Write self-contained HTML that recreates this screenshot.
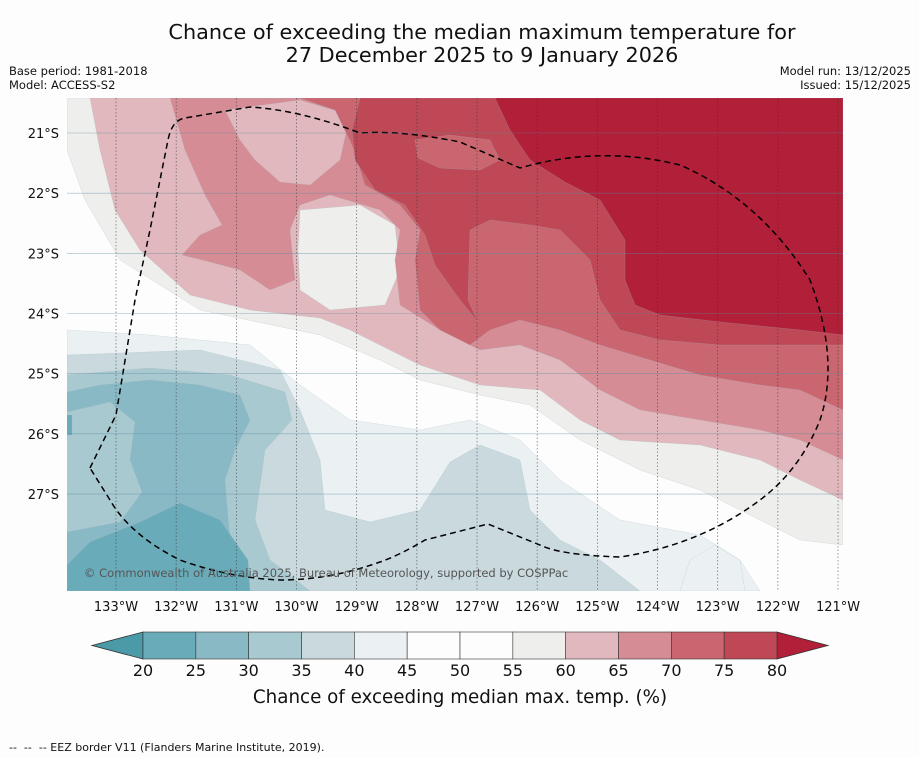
<!DOCTYPE html>
<html><head><meta charset="utf-8"><style>
body{margin:0;background:#fdfdfd;font-family:"DejaVu Sans","Liberation Sans",sans-serif;}
#wrap{position:relative;width:919px;height:758px;overflow:hidden;}
</style></head><body>
<div id="wrap">
<svg id="svg" width="919" height="758" xmlns="http://www.w3.org/2000/svg" font-family="DejaVu Sans, Liberation Sans, sans-serif">
<text x="482" y="39" font-size="20.8" text-anchor="middle" fill="#111">Chance of exceeding the median maximum temperature for</text>
<text x="482" y="62" font-size="20.8" text-anchor="middle" fill="#111">27 December 2025 to 9 January 2026</text>
<text x="9" y="75" font-size="11.5" fill="#111">Base period: 1981-2018</text>
<text x="9" y="89" font-size="11.5" fill="#111">Model: ACCESS-S2</text>
<text x="911" y="75" font-size="11.5" text-anchor="end" fill="#111">Model run: 13/12/2025</text>
<text x="911" y="89" font-size="11.5" text-anchor="end" fill="#111">Issued: 15/12/2025</text>
<defs><clipPath id="mc"><rect x="67" y="98" width="776" height="493"/></clipPath></defs>
<g id="map" clip-path="url(#mc)">
<rect x="67" y="98" width="776" height="493" fill="#fdfdfd"/>
</g>
<g id="grid"></g>
<g id="axes"></g>
<text x="84" y="577" font-size="11.5" fill="#555">© Commonwealth of Australia 2025, Bureau of Meteorology, supported by COSPPac</text>
<g id="cbar"></g>
<text x="460" y="703" font-size="18.3" text-anchor="middle" fill="#111">Chance of exceeding median max. temp. (%)</text>
<text x="9" y="751" font-size="11" fill="#111" xml:space="preserve">--  --  -- EEZ border V11 (Flanders Marine Institute, 2019).</text>
</svg>
</div>
<script>
const levels=[20,25,30,35,40,45,50,55,60,65,70,75,80];
const binColors=["#6aabb9","#8ab9c6","#a9c9d0","#c9d9de","#ebf1f3","#fdfdfd","#fdfdfd","#eeeeec","#e1b8bd","#d58c95","#c9666f","#be4855"];
const underColor="#4a9aa8", overColor="#b11f39";
const lonTicks=[133,132,131,130,129,128,127,126,125,124,123,122,121];
const latTicks=[21,22,23,24,25,26,27];
const NS="http://www.w3.org/2000/svg";
const svg=document.getElementById('svg');
function lonX(l){return 116+(133-l)*60.17;}
function latY(l){return 133+(l-21)*60.17;}
function cbX(v){return 143+(v-20)*(777-143)/60;}
function colorFor(v){if(v<levels[0])return underColor;if(v>=80)return overColor;for(let i=0;i<levels.length-1;i++)if(v<levels[i+1])return binColors[i];}
function mk(t,a,p){const e=document.createElementNS(NS,t);for(const k in a)e.setAttribute(k,a[k]);p.appendChild(e);return e;}
const regions=[
[57,"67,98 843,98 843,545 800,540 760,520 700,490 640,470 580,440 530,405 480,395 420,380 380,360 320,335 200,310 120,260 85,200 67,150"],
[62,"90,98 843,98 843,500 800,480 760,460 700,445 620,440 580,420 540,390 480,385 420,365 350,330 320,318 250,310 190,295 140,250 115,210 100,150"],
[57,"300,210 360,205 395,225 400,270 385,305 330,310 300,290 298,250"],
[67,"170,98 843,98 843,460 800,440 760,430 700,420 640,410 600,390 560,360 520,345 480,350 440,330 400,305 395,260 400,230 380,210 330,195 300,205 290,230 295,280 270,290 240,270 210,262 182,255 200,235 222,225 205,195 185,150 175,115"],
[62,"225,110 300,100 350,115 340,160 310,185 280,182 255,160 240,140"],
[72,"300,98 843,98 843,410 800,390 760,385 700,375 650,360 600,345 560,330 520,320 490,330 470,345 440,330 420,310 415,260 420,230 400,205 365,185 352,145 335,110"],
[77,"360,98 843,98 843,345 800,345 720,345 660,340 620,330 600,300 590,260 560,230 530,225 490,220 470,230 468,300 478,322 460,300 435,265 425,235 405,205 375,190 355,160 352,130"],
[72,"415,140 450,135 490,140 500,160 480,170 440,168 418,158"],
[82,"495,98 843,98 843,335 800,330 720,322 660,315 635,305 625,280 625,240 600,200 565,182 530,160 510,130"],
[42,"67,330 150,335 250,345 300,385 350,420 420,430 470,420 520,440 560,480 620,520 700,535 740,560 760,591 67,591"],
[38,"67,355 200,350 280,370 300,410 320,460 325,510 370,522 420,510 450,462 480,445 520,460 530,510 560,540 600,560 640,591 67,591"],
[42,"680,591 690,560 715,545 740,560 745,591"],
[32,"67,375 150,368 230,375 285,392 292,420 265,450 255,520 270,560 310,591 67,591"],
[27,"67,392 100,385 150,380 200,385 240,395 250,420 235,450 225,480 230,540 250,591 67,591"],
[32,"67,412 110,402 135,422 130,460 142,492 120,522 67,532"],
[22,"67,565 90,542 140,522 180,503 220,520 248,560 250,591 67,591"],
[22,"67,415 72,415 72,435 67,435"]
];
const map=document.getElementById('map');
regions.forEach((r,i)=>{const p=mk('polygon',{points:r[1],fill:colorFor(r[0]),stroke:'#9db7bf','stroke-width':0.4,'stroke-opacity':0.5},map);

});
const eez=mk('path',{d:"M90,468 L116,415 L135,300 L150,230 L168,140 Q172,120 185,118 L250,107 Q300,110 360,133 Q400,130 460,142 L520,168 Q600,145 680,165 Q760,200 810,280 Q840,360 820,420 Q800,470 760,500 Q700,545 620,557 Q560,555 540,545 L488,524 L425,540 Q400,555 380,562 Q330,580 280,580 Q230,578 180,560 Q130,535 110,500 Z",fill:'none',stroke:'#000','stroke-width':1.5,'stroke-dasharray':'6,4'},map);


const grid=document.getElementById('grid'),axes=document.getElementById('axes');
lonTicks.forEach(l=>{const x=lonX(l);
const g=mk('line',{x1:x,y1:98,x2:x,y2:591,stroke:'#333','stroke-width':0.7,'stroke-dasharray':'1.5,2','stroke-opacity':0.7},grid);


const t=mk('text',{x:x,y:611,'font-size':13,'text-anchor':'middle',fill:'#111'},axes);t.textContent=l+'°W';

});
latTicks.forEach(l=>{const y=latY(l);
const g=mk('line',{x1:67,y1:y,x2:843,y2:y,stroke:'#5a8aa0','stroke-width':0.6,'stroke-opacity':0.6},grid);


const t=mk('text',{x:59,y:y+5,'font-size':13,'text-anchor':'end',fill:'#111'},axes);t.textContent=l+'°S';

});
const cb=document.getElementById('cbar');const y0=632,y1=659;
const lt=mk('polygon',{points:`${cbX(20)},${y0} ${cbX(20)},${y1} 92,${(y0+y1)/2}`,fill:underColor,stroke:'#333','stroke-width':0.8},cb);


const rt=mk('polygon',{points:`${cbX(80)},${y0} ${cbX(80)},${y1} 828,${(y0+y1)/2}`,fill:overColor,stroke:'#333','stroke-width':0.8},cb);


for(let i=0;i<levels.length-1;i++){
const r=mk('rect',{x:cbX(levels[i]),y:y0,width:cbX(levels[i+1])-cbX(levels[i]),height:y1-y0,fill:binColors[i],stroke:'#333','stroke-width':0.6},cb);

}
levels.forEach(v=>{const t=mk('text',{x:cbX(v),y:676,'font-size':16,'text-anchor':'middle',fill:'#111'},cb);t.textContent=v;

});
</script>
</body></html>
